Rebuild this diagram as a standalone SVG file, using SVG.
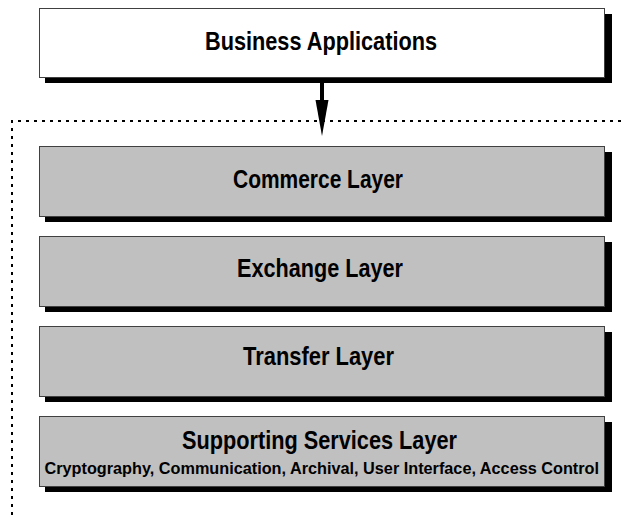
<svg xmlns="http://www.w3.org/2000/svg" width="624" height="515" viewBox="0 0 624 515">
  <defs>
    <style>
      .shadow { fill: #000000; }
      .box { stroke: #404040; stroke-width: 1; }
      .app { fill: #ffffff; }
      .layer { fill: #c0c0c0; }
      .label { font-family: "Liberation Sans Narrow", "Liberation Sans", Arial, sans-serif; font-weight: bold; font-size: 26px; fill: #000000; }
      .sub { font-size: 16.5px; }
      .boundary { fill: none; stroke: #000000; stroke-width: 2; stroke-dasharray: 3 5; }
      .link { stroke: #000000; stroke-width: 4; fill: none; }
    </style>
  </defs>

  <rect width="624" height="515" fill="#ffffff"/>

  <!-- dotted boundary around the layer stack -->
  <path class="boundary" d="M12,515 L12,121 L624,121"/>

  <g id="business-applications">
    <rect class="shadow" x="45" y="14" width="567" height="69"/>
    <rect class="box app" x="39.5" y="8.5" width="565" height="69"/>
    <text class="label" x="205" y="49.5" textLength="232" lengthAdjust="spacingAndGlyphs">Business Applications</text>
  </g>

  <g id="commerce-layer">
    <rect class="shadow" x="45" y="152" width="567" height="70"/>
    <rect class="box layer" x="39.5" y="146.5" width="565" height="70"/>
    <text class="label" x="233" y="187.5" textLength="170" lengthAdjust="spacingAndGlyphs">Commerce Layer</text>
  </g>

  <g id="exchange-layer">
    <rect class="shadow" x="45" y="242" width="567" height="70"/>
    <rect class="box layer" x="39.5" y="236.5" width="565" height="70"/>
    <text class="label" x="237" y="276.5" textLength="166" lengthAdjust="spacingAndGlyphs">Exchange Layer</text>
  </g>

  <g id="transfer-layer">
    <rect class="shadow" x="45" y="332" width="567" height="70"/>
    <rect class="box layer" x="39.5" y="326.5" width="565" height="70"/>
    <text class="label" x="243" y="365" textLength="151" lengthAdjust="spacingAndGlyphs">Transfer Layer</text>
  </g>

  <g id="supporting-services-layer">
    <rect class="shadow" x="45" y="422" width="567" height="70"/>
    <rect class="box layer" x="39.5" y="416.5" width="565" height="70"/>
    <text class="label" x="182" y="448.5" textLength="275" lengthAdjust="spacingAndGlyphs">Supporting Services Layer</text>
    <text class="label sub" x="44.5" y="474" textLength="554.5" lengthAdjust="spacingAndGlyphs">Cryptography, Communication, Archival, User Interface, Access Control</text>
  </g>

  <g id="connectors">
    <line class="link" x1="322" y1="78" x2="322" y2="104"/>
    <polygon points="315.5,100 328.5,100 322,136" fill="#000000"/>
  </g>
</svg>
